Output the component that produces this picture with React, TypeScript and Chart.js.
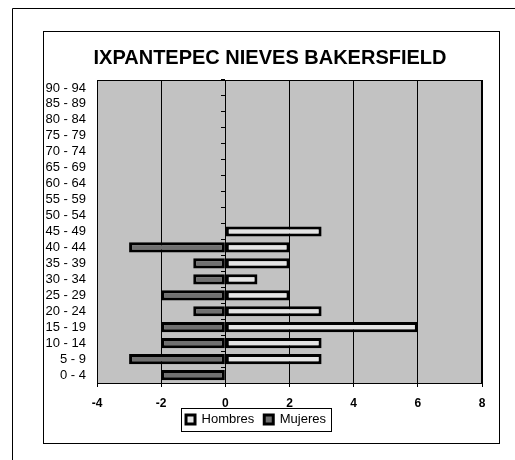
import { useEffect, useRef } from 'react';
import { Chart, registerables } from 'chart.js';

Chart.register(...registerables);

const W = 515;
const H = 460;
const FONT = "'Liberation Sans', Arial, sans-serif";

const titleText = 'IXPANTEPEC NIEVES BAKERSFIELD';
const categories = [
  '0 - 4', '5 - 9', '10 - 14', '15 - 19', '20 - 24', '25 - 29', '30 - 34', '35 - 39', '40 - 44', '45 - 49',
  '50 - 54', '55 - 59', '60 - 64', '65 - 69', '70 - 74', '75 - 79', '80 - 84', '85 - 89', '90 - 94',
];
const hombres = [0, 3, 3, 6, 3, 2, 1, 2, 2, 3, 0, 0, 0, 0, 0, 0, 0, 0, 0];
const mujeres = [-2, -3, -2, -2, -1, -2, -1, -1, -3, 0, 0, 0, 0, 0, 0, 0, 0, 0, 0];
const xMin = -4;
const xMax = 8;
const xStep = 2;

const framePlugin = {
  id: 'frame',
  afterLayout(chart: any) {
    const t = chart.titleBlock;
    if (t) {
      t.left += 14;
      t.right += 14;
    }
    const lg = chart.legend;
    if (lg) {
      lg.top -= 8;
      lg.bottom -= 8;
    }
  },
  beforeDraw(chart: any) {
    const ctx = chart.ctx;
    ctx.save();
    ctx.fillStyle = '#fff';
    ctx.fillRect(0, 0, W, H);
    ctx.strokeStyle = '#000';
    ctx.lineWidth = 1;
    ctx.beginPath();
    ctx.moveTo(12.5, H);
    ctx.lineTo(12.5, 8.5);
    ctx.lineTo(W, 8.5);
    ctx.stroke();
    ctx.strokeRect(43.5, 31.5, 456, 412);
    const a = chart.chartArea;
    ctx.fillStyle = '#c2c2c2';
    ctx.fillRect(a.left, a.top, a.right - a.left, a.bottom - a.top);
    ctx.restore();
  },
  afterDraw(chart: any) {
    const ctx = chart.ctx;
    const a = chart.chartArea;
    ctx.save();
    ctx.strokeStyle = '#000';
    ctx.lineWidth = 1;
    ctx.strokeRect(Math.round(a.left) + 0.5, Math.round(a.top) + 0.5, Math.round(a.right - a.left) - 1, Math.round(a.bottom - a.top));
    const hb = chart.legend?.legendHitBoxes;
    if (hb && hb.length) {
      let l = Infinity, r = -Infinity, t = Infinity, b = -Infinity;
      hb.forEach((h: any) => {
        l = Math.min(l, h.left);
        r = Math.max(r, h.left + h.width);
        t = Math.min(t, h.top);
        b = Math.max(b, h.top + h.height);
      });
      ctx.strokeRect(Math.round(l - 5) + 0.5, Math.round(t - 5) + 0.5, Math.round(r - l + 10), Math.round(b - t + 10));
    }
    ctx.restore();
  },
};

export default function App() {
  const ref = useRef<HTMLCanvasElement>(null);
  useEffect(() => {
    const chart = new Chart(ref.current!, {
      type: 'bar',
      data: {
        labels: categories,
        datasets: [
          {
            label: 'Hombres',
            data: hombres,
            backgroundColor: '#e4e4e4',
            borderColor: '#000',
            borderWidth: 3,
            borderSkipped: false,
            barPercentage: 0.64,
            categoryPercentage: 1,
          },
          {
            label: 'Mujeres',
            data: mujeres,
            backgroundColor: '#707070',
            borderColor: '#000',
            borderWidth: 3,
            borderSkipped: false,
            barPercentage: 0.64,
            categoryPercentage: 1,
          },
        ],
      },
      options: {
        indexAxis: 'y',
        responsive: false,
        animation: false,
        layout: { padding: { left: 30, right: 33, top: 0, bottom: 16 } },
        scales: {
          x: {
            type: 'linear',
            min: xMin,
            max: xMax,
            stacked: true,
            ticks: { stepSize: xStep, color: '#000', padding: 9, font: { family: FONT, size: 12, weight: 'bold' } },
            grid: { color: '#000', lineWidth: 1, tickLength: 4, drawTicks: true },
            border: { display: true, color: '#000' },
            afterFit: (s: any) => { s.height = 28; },
          },
          y: {
            type: 'category',
            stacked: true,
            reverse: true,
            grid: { display: false, drawTicks: false },
            border: { display: false },
            ticks: { color: '#000', padding: 11, autoSkip: false, font: { family: FONT, size: 13 } },
            afterFit: (s: any) => { s.width = 67; },
          },
          y2: {
            type: 'category',
            axis: 'y',
            position: { x: 0 },
            reverse: true,
            offset: true,
            grid: { offset: true, drawOnChartArea: false, tickLength: 4, color: '#000' },
            ticks: { display: false },
            border: { display: true, color: '#000' },
          },
        } as any,
        plugins: {
          title: {
            display: true,
            text: titleText,
            color: '#000',
            font: { family: FONT, size: 20, weight: 'bold' },
            padding: { top: 46, bottom: 10 },
          },
          legend: {
            position: 'bottom',
            labels: {
              color: '#000',
              boxWidth: 9,
              boxHeight: 9,
              padding: 10,
              font: { family: FONT, size: 13 },
            },
          },
          tooltip: { enabled: false },
        },
      },
      plugins: [framePlugin],
    });
    return () => chart.destroy();
  }, []);
  return (
    <div style={{ position: 'absolute', left: 0, top: 0, width: W, height: H, background: '#fff' }}>
      <canvas ref={ref} width={W} height={H} style={{ display: 'block' }} />
    </div>
  );
}
